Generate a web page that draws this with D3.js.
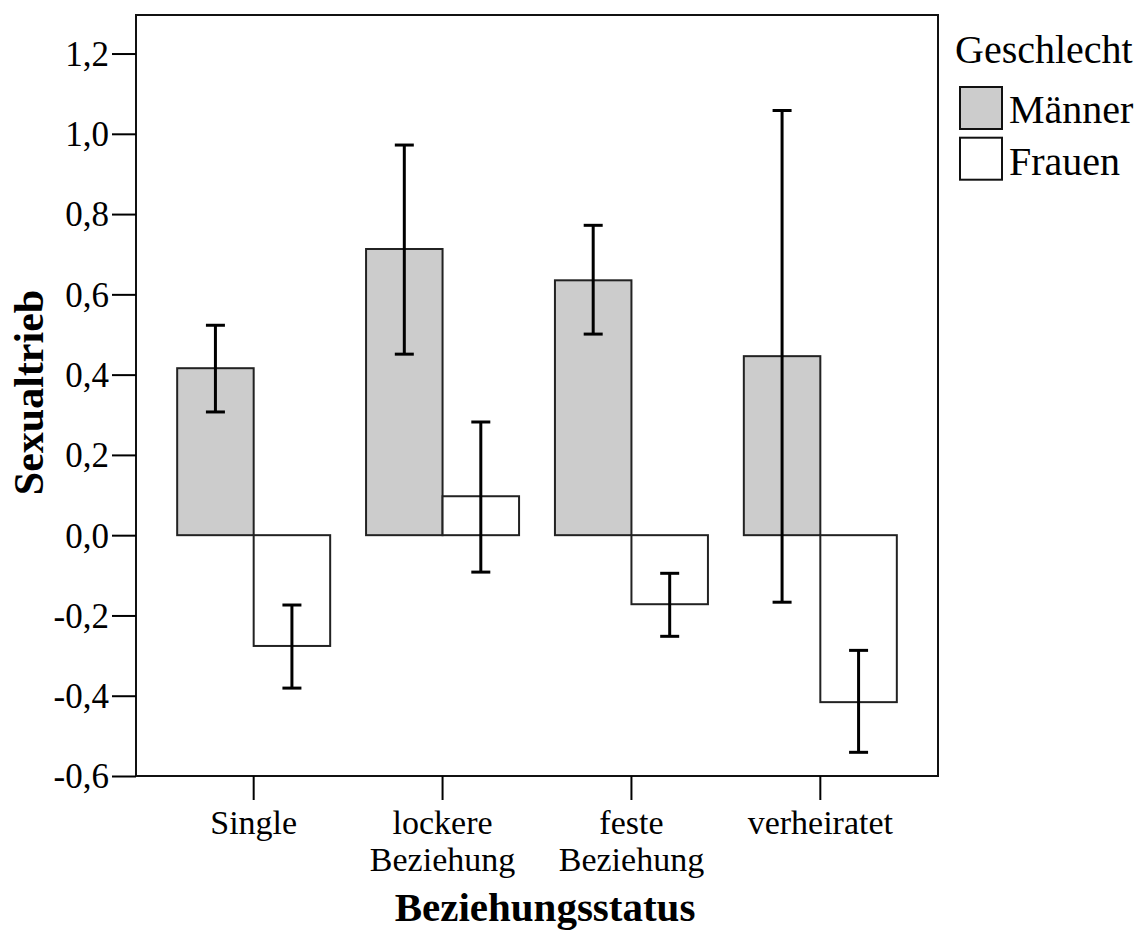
<!DOCTYPE html>
<html><head><meta charset="utf-8">
<script src="https://cdn.jsdelivr.net/npm/d3@7"></script>
<style>
body{margin:0;background:#fff;}
text{font-family:"Liberation Serif","Times New Roman",serif;fill:#000;}
</style></head>
<body><svg id="chart" width="1146" height="932"></svg>
<script>
const categories = [["Single"], ["lockere", "Beziehung"], ["feste", "Beziehung"], ["verheiratet"]];
const categoryKeys = ["Single", "lockere Beziehung", "feste Beziehung", "verheiratet"];
const groups = ["Männer", "Frauen"];
const meanMaenner = [0.416, 0.713, 0.635, 0.446];
const meanFrauen = [-0.276, 0.097, -0.172, -0.416];
const lowMaenner = [0.307, 0.451, 0.501, -0.167];
const highMaenner = [0.523, 0.972, 0.772, 1.058];
const lowFrauen = [-0.381, -0.092, -0.252, -0.541];
const highFrauen = [-0.174, 0.282, -0.095, -0.287];
const yTicks = [-0.6, -0.4, -0.2, 0.0, 0.2, 0.4, 0.6, 0.8, 1.0, 1.2];
const yDomain = [-0.6, 1.296];

const svg = d3.select("#chart");
const L = 136, R = 938, T = 15, B = 776;
const colors = {"Männer": "#cccccc", "Frauen": "#ffffff"};

const x0 = d3.scaleBand().domain(categoryKeys).range([L, R]).paddingInner(0.19).paddingOuter(0.218);
const x1 = d3.scaleBand().domain(groups).range([0, x0.bandwidth()]);
const y = d3.scaleLinear().domain(yDomain).range([B, T]);

const data = [];
categoryKeys.forEach((c, i) => {
  data.push({cat: c, g: "Männer", v: meanMaenner[i], lo: lowMaenner[i], hi: highMaenner[i]});
  data.push({cat: c, g: "Frauen", v: meanFrauen[i], lo: lowFrauen[i], hi: highFrauen[i]});
});

// bars
svg.append("g").selectAll("rect").data(data).join("rect")
  .attr("x", d => x0(d.cat) + x1(d.g))
  .attr("width", x1.bandwidth())
  .attr("y", d => y(Math.max(0, d.v)))
  .attr("height", d => Math.abs(y(d.v) - y(0)))
  .attr("fill", d => colors[d.g])
  .attr("stroke", "#222").attr("stroke-width", 2);

// error bars
const eb = svg.append("g").attr("stroke", "#000").attr("stroke-width", 3);
data.forEach(d => {
  const cx = x0(d.cat) + x1(d.g) + x1.bandwidth() / 2;
  eb.append("line").attr("x1", cx).attr("x2", cx).attr("y1", y(d.lo)).attr("y2", y(d.hi));
  eb.append("line").attr("x1", cx - 9.5).attr("x2", cx + 9.5).attr("y1", y(d.lo)).attr("y2", y(d.lo));
  eb.append("line").attr("x1", cx - 9.5).attr("x2", cx + 9.5).attr("y1", y(d.hi)).attr("y2", y(d.hi));
});

// frame
svg.append("rect").attr("x", L).attr("y", T).attr("width", R - L).attr("height", B - T)
  .attr("fill", "none").attr("stroke", "#111").attr("stroke-width", 2);

// y axis
const fmt = v => d3.format(".1f")(v).replace(".", ",").replace("−", "-");
const yAxis = svg.append("g").attr("transform", `translate(${L},0)`)
  .call(d3.axisLeft(y).tickValues(yTicks).tickFormat(fmt).tickSize(24).tickPadding(3));
yAxis.select(".domain").remove();
yAxis.selectAll("line").attr("stroke", "#000").attr("stroke-width", 2);
yAxis.selectAll("text").attr("font-size", 35).attr("font-family", "Liberation Serif").attr("dy", "0.34em");

// x axis
const xAxis = svg.append("g").attr("transform", `translate(0,${B})`)
  .call(d3.axisBottom(x0).tickSize(24).tickFormat(""));
xAxis.select(".domain").remove();
xAxis.selectAll("line").attr("stroke", "#000").attr("stroke-width", 2);
const xl = svg.append("g");
categoryKeys.forEach((c, i) => {
  const t = xl.append("text").attr("x", x0(c) + x0.bandwidth() / 2).attr("y", 834)
    .attr("text-anchor", "middle").attr("font-size", 34);
  categories[i].forEach((line, j) => {
    t.append("tspan").attr("x", x0(c) + x0.bandwidth() / 2).attr("dy", j === 0 ? 0 : 37).text(line);
  });
});

// axis titles
svg.append("text").attr("x", 545).attr("y", 921).attr("text-anchor", "middle")
  .attr("font-size", 41).attr("font-weight", "bold").text("Beziehungsstatus");
svg.append("text").attr("transform", `translate(43,${(T + B) / 2 - 3}) rotate(-90)`)
  .attr("text-anchor", "middle").attr("font-size", 42).attr("font-weight", "bold").text("Sexualtrieb");

// legend
const lg = svg.append("g");
lg.append("text").attr("x", 955).attr("y", 63).attr("font-size", 40).text("Geschlecht");
groups.forEach((g, i) => {
  lg.append("rect").attr("x", 960).attr("y", 87 + i * 50.7).attr("width", 42).attr("height", 42)
    .attr("fill", colors[g]).attr("stroke", "#111").attr("stroke-width", 2);
  lg.append("text").attr("x", 1009).attr("y", 123 + i * 51.7).attr("font-size", 40).text(g);
});
</script></body></html>
